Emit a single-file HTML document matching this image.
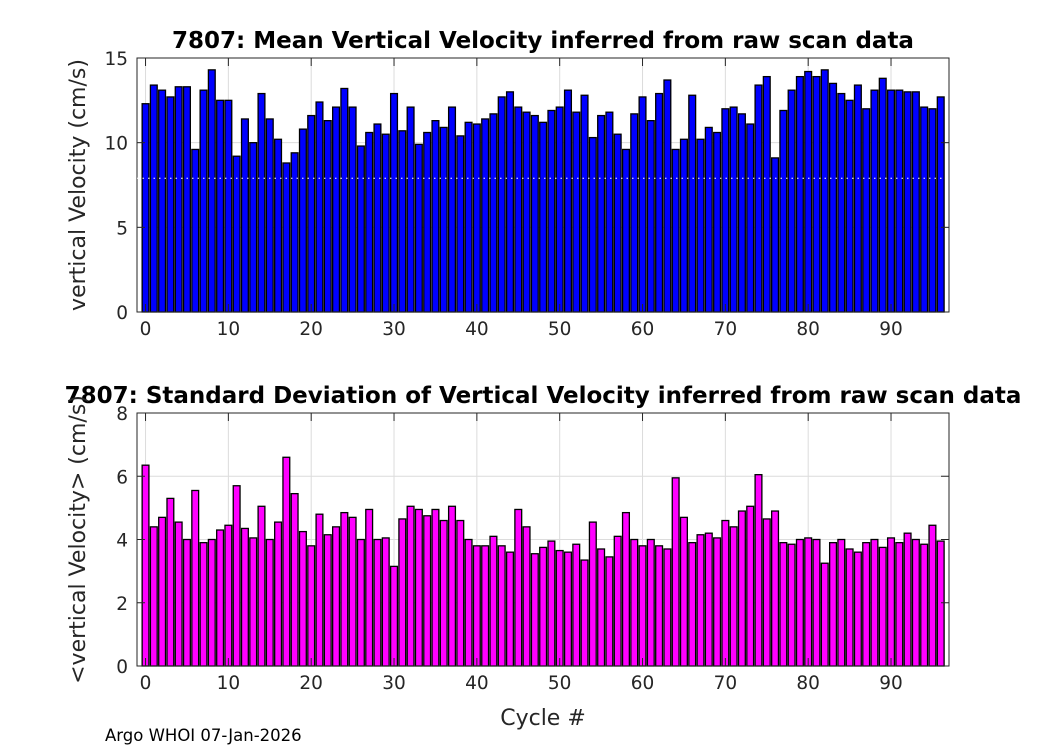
<!DOCTYPE html>
<html><head><meta charset="utf-8"><style>
body{margin:0;background:#fff;width:1050px;height:750px;overflow:hidden}
svg text{font-family:"DejaVu Sans","Liberation Sans",sans-serif;fill:#262626}
</style></head><body>
<svg id="chart" width="1050" height="750" xmlns="http://www.w3.org/2000/svg"></svg>
<script>
const cycles = Array.from({length:97},(_,i)=>i);
const meanVel = [12.3,13.4,13.1,12.7,13.3,13.3,9.6,13.1,14.3,12.5,12.5,9.2,11.4,10.0,12.9,11.4,10.2,8.8,9.4,10.8,11.6,12.4,11.3,12.1,13.2,12.1,9.8,10.6,11.1,10.5,12.9,10.7,12.1,9.9,10.6,11.3,10.9,12.1,10.4,11.2,11.1,11.4,11.7,12.7,13.0,12.1,11.8,11.6,11.2,11.9,12.1,13.1,11.8,12.8,10.3,11.6,11.8,10.5,9.6,11.7,12.7,11.3,12.9,13.7,9.6,10.2,12.8,10.2,10.9,10.6,12.0,12.1,11.7,11.1,13.4,13.9,9.1,11.9,13.1,13.9,14.2,13.9,14.3,13.5,12.9,12.5,13.4,12.0,13.1,13.8,13.1,13.1,13.0,13.0,12.1,12.0,12.7];
const stdVel = [6.35,4.4,4.7,5.3,4.55,4.0,5.55,3.9,4.0,4.3,4.45,5.7,4.35,4.05,5.05,4.0,4.55,6.6,5.45,4.25,3.8,4.8,4.15,4.4,4.85,4.7,4.0,4.95,4.0,4.05,3.15,4.65,5.05,4.95,4.75,4.95,4.6,5.05,4.6,4.0,3.8,3.8,4.1,3.8,3.6,4.95,4.4,3.55,3.75,3.95,3.65,3.6,3.85,3.35,4.55,3.7,3.45,4.1,4.85,4.0,3.8,4.0,3.8,3.7,5.95,4.7,3.9,4.15,4.2,4.05,4.6,4.4,4.9,5.05,6.05,4.65,4.9,3.9,3.85,4.0,4.05,4.0,3.25,3.9,4.0,3.7,3.6,3.9,4.0,3.75,4.05,3.9,4.2,4.0,3.85,4.45,3.95];
const xTicks = [0,10,20,30,40,50,60,70,80,90];
const yTicksTop = [0,5,10,15];
const yTicksBot = [0,2,4,6,8];

const svg = document.getElementById('chart');
const NS = 'http://www.w3.org/2000/svg';
function mk(tag, attrs, parent){const e=document.createElementNS(NS,tag);for(const k in attrs)e.setAttribute(k,attrs[k]);(parent||svg).appendChild(e);return e;}
const L=137,R=949;
const xMin=-1.03,xMax=97.0;
const xs = v => L + (v-xMin)/(xMax-xMin)*(R-L);

function panel(name, top, bottom, yMax, yTicks, data, color, title, ylabel, titleX){
  const ys = v => bottom - v/yMax*(bottom-top);
  const g = mk('g',{});
  
  
  mk('rect',{x:L,y:top,width:R-L,height:bottom-top,fill:'#fff'},g);
  xTicks.forEach(t=>{mk('line',{x1:xs(t),x2:xs(t),y1:top,y2:bottom,stroke:'#dcdcdc','stroke-width':1},g);});
  yTicks.forEach(t=>{mk('line',{x1:L,x2:R,y1:ys(t),y2:ys(t),stroke:'#dcdcdc','stroke-width':1},g);});
  const bw = 0.82*(xs(1)-xs(0));
  data.forEach((v,i)=>{
    const b = mk('rect',{x:xs(cycles[i])-bw/2,y:ys(v),width:bw,height:ys(0)-ys(v),fill:color,stroke:'#000','stroke-width':1.3},g);
    
    
  });
  mk('rect',{x:L,y:top,width:R-L,height:bottom-top,fill:'none',stroke:'#262626','stroke-width':1},g);
  xTicks.forEach(t=>{
    mk('line',{x1:xs(t),x2:xs(t),y1:bottom,y2:bottom-8,stroke:'#262626'},g);
    mk('line',{x1:xs(t),x2:xs(t),y1:top,y2:top+8,stroke:'#262626'},g);
    const tx=mk('text',{x:xs(t),y:bottom+23,'text-anchor':'middle','font-size':18.5},g);tx.textContent=t;
  });
  yTicks.forEach(t=>{
    mk('line',{x1:L,x2:L+8,y1:ys(t),y2:ys(t),stroke:'#262626'},g);
    mk('line',{x1:R,x2:R-8,y1:ys(t),y2:ys(t),stroke:'#262626'},g);
    const tx=mk('text',{x:L-9,y:ys(t)+7,'text-anchor':'end','font-size':18.5},g);tx.textContent=t;
  });
  const tt=mk('text',{x:titleX,y:top-10,'text-anchor':'middle','font-size':23,'font-weight':'bold'},g);
  tt.textContent=title;tt.style.fill='#000';
  
  
  const yl=mk('text',{x:0,y:0,'text-anchor':'middle','font-size':22,transform:`translate(${L-52},${(top+bottom)/2}) rotate(-90)`},g);
  yl.textContent=ylabel;
  
  
  return ys;
}
const ysTop = panel('mean-velocity-panel',58,312,15,yTicksTop,meanVel,'#0000ff','7807: Mean Vertical Velocity inferred from raw scan data','vertical Velocity (cm/s)',543);
mk('line',{x1:L,x2:R,y1:ysTop(7.9),y2:ysTop(7.9),stroke:'#fff','stroke-width':1,'stroke-dasharray':'1.5,4'});
panel('std-velocity-panel',413,666,8,yTicksBot,stdVel,'#ff00ff','7807: Standard Deviation of Vertical Velocity inferred from raw scan data','<vertical Velocity> (cm/s)',543);
const xl=mk('text',{x:543,y:725,'text-anchor':'middle','font-size':22});xl.textContent='Cycle #';


const ft=mk('text',{x:105,y:741,'font-size':16.5});ft.textContent='Argo WHOI 07-Jan-2026';ft.style.fill='#000';


</script>
</body></html>
